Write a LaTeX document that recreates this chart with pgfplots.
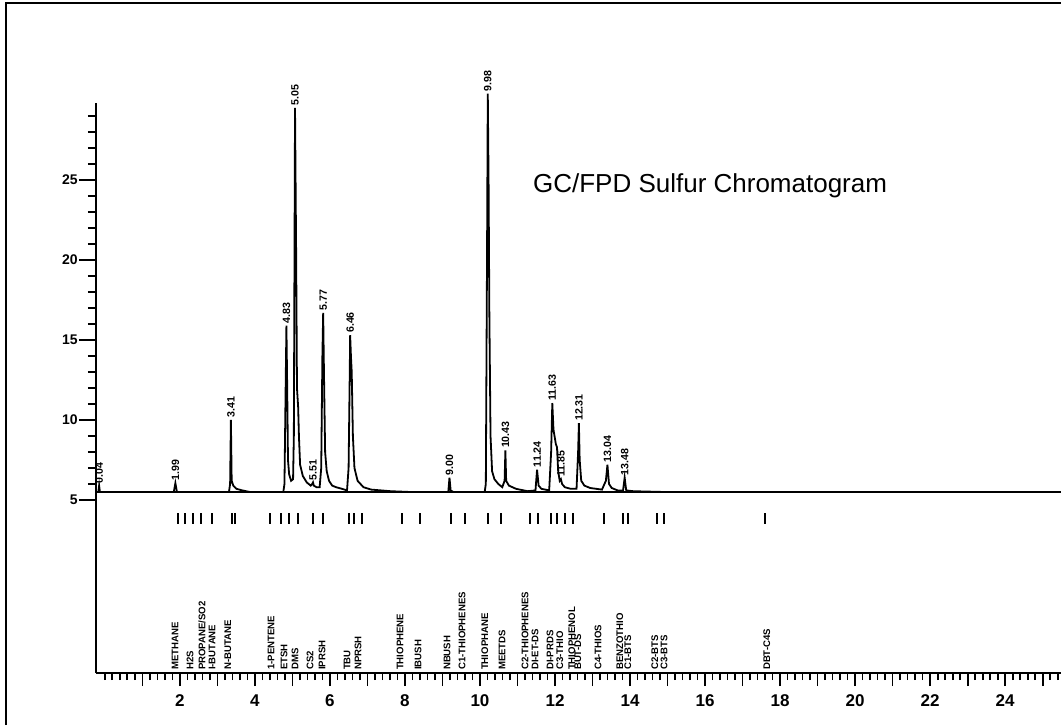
\documentclass[border=0pt]{standalone}
\usepackage{fontspec}
\setmainfont{Liberation Sans}
\usepackage{pgfplots}
\pgfplotsset{compat=1.18}
\begin{document}
\begin{tikzpicture}
\useasboundingbox (0,0) rectangle (530.5pt,362.5pt);
% scan frame
\draw[line width=0.8pt] (3pt,0) -- (3pt,361pt) -- (530.5pt,361pt);
\node[anchor=west, font=\fontsize{13}{15}\selectfont] at (263pt,269.5pt) {GC/FPD Sulfur Chromatogram};

% upper: the chromatogram
\begin{axis}[
  at={(48pt,112.5pt)}, anchor=south west, scale only axis,
  width=482.5pt, height=198.5pt,
  xmin=-0.04, xmax=24.64, ymin=5, ymax=29.81,
  axis x line=none, axis y line=left,
  axis line style={-, line width=1.3pt},
  clip=false,
  ytick={5,10,15,20,25}, minor ytick={6,7,8,9,11,12,13,14,16,17,18,19,21,22,23,24,26,27,28,29},
  tick align=outside, major tick length=8.5pt, minor tick length=4pt,
  tick style={line width=1pt, black},
  yticklabel style={font=\fontsize{7}{8}\selectfont\bfseries, inner sep=0.5pt},
  /pgf/number format/assume math mode=true,
]
\draw[line width=1.2pt] (axis cs:-0.04,5.5) -- (axis cs:24.64,5.5);
\addplot[black, line width=0.9pt] coordinates {
(-0.04,5.5) (0.02,5.5) (0.04,5.9) (0.06,5.5)
(1.95,5.5) (1.99,6.06) (2.03,5.5)
(3.36,5.5) (3.39,6.0) (3.41,10.0) (3.43,6.2) (3.47,5.9) (3.55,5.7) (3.7,5.6) (3.9,5.5)
(4.75,5.5) (4.78,6.0) (4.81,12) (4.83,15.9) (4.85,12) (4.87,7.5) (4.9,6.6) (4.95,6.2) (5.0,6.3)
(5.02,9) (5.05,29.5) (5.08,20) (5.10,12) (5.13,10.8) (5.15,9) (5.18,7.2) (5.25,6.5) (5.35,6.1)
(5.45,5.9) (5.49,6.0) (5.51,6.1) (5.53,5.9) (5.6,5.8) (5.68,5.8) (5.72,7) (5.75,14) (5.77,16.7)
(5.79,13) (5.82,8) (5.86,6.8) (5.92,6.2) (6.0,5.9) (6.1,5.8) (6.25,5.7) (6.38,5.6) (6.42,7)
(6.45,13) (6.46,15.3) (6.48,14) (6.50,13) (6.53,9) (6.57,7) (6.65,6.2) (6.8,5.8) (7.0,5.65)
(7.5,5.55) (8.0,5.5)
(8.97,5.5) (9.0,6.4) (9.03,5.6) (9.1,5.5)
(9.90,5.5) (9.93,6) (9.96,20) (9.98,30.4) (10.0,25) (10.02,16.7) (10.05,9) (10.09,6.8)
(10.15,6.3) (10.25,6.0) (10.35,5.8) (10.41,6.2) (10.43,8.1) (10.45,6.2) (10.52,5.9) (10.7,5.7)
(11.0,5.55) (11.2,5.6) (11.24,6.9) (11.28,5.9) (11.35,5.7) (11.55,5.6) (11.6,8) (11.63,11.06)
(11.66,9.4) (11.72,8.5) (11.75,8.3) (11.78,6.8) (11.82,6.2) (11.85,6.3) (11.88,6.0) (11.95,5.8)
(12.1,5.7) (12.25,5.7) (12.29,8) (12.31,9.8) (12.33,7.5) (12.37,6.2) (12.45,5.9) (12.6,5.75)
(12.9,5.65) (13.0,6.2) (13.04,7.2) (13.08,6.0) (13.15,5.75) (13.3,5.6) (13.44,5.6) (13.48,6.4)
(13.52,5.6) (13.7,5.55) (14.5,5.5) (24.64,5.5)
};
% retention time labels
\addplot[only marks, mark=none, point meta=explicit symbolic, nodes near coords,
  nodes near coords style={rotate=90, anchor=west, inner sep=1pt,
    font=\fontsize{5.3}{6}\selectfont\bfseries}]
  table[meta=lab] {
t h lab
0.04 5.9 0.04
1.99 6.06 1.99
3.41 10.0 3.41
4.83 15.9 4.83
5.05 29.5 5.05
5.51 6.1 5.51
5.77 16.7 5.77
6.46 15.3 6.46
9.00 6.4 9.00
9.98 30.4 9.98
10.43 8.1 10.43
11.24 6.9 11.24
11.63 11.06 11.63
11.85 6.3 11.85
12.31 9.8 12.31
13.04 7.2 13.04
13.48 6.4 13.48
};
\end{axis}

% lower: component windows and time axis
\begin{axis}[
  at={(48pt,26pt)}, anchor=south west, scale only axis,
  width=482.5pt, height=86.5pt,
  xmin=-0.237, xmax=25.49, ymin=0, ymax=1,
  axis x line=bottom, axis y line=left,
  axis line style={-, line width=1.3pt},
  ytick=\empty,
  xtick={2,4,...,24}, extra x ticks={1,3,...,25}, extra x tick labels={},
  minor xtick={0,0.2,...,25.4},
  tick align=outside, major tick length=6.5pt, minor tick length=3.5pt,
  tick style={line width=0.9pt, black},
  xticklabel style={font=\fontsize{8.5}{9}\selectfont\bfseries, inner sep=1pt, yshift=-3pt},
  /pgf/number format/assume math mode=true,
]
\addplot[only marks, mark=|, mark size=2.75pt, mark options={line width=0.9pt}] coordinates {
(1.95,0.893) (2.14,0.893) (2.35,0.893) (2.56,0.893) (2.86,0.893) (3.39,0.893) (3.47,0.893)
(4.40,0.893) (4.69,0.893) (4.91,0.893) (5.15,0.893) (5.55,0.893) (5.81,0.893) (6.51,0.893)
(6.64,0.893) (6.85,0.893) (7.92,0.893) (8.40,0.893) (9.23,0.893) (9.60,0.893) (10.21,0.893)
(10.56,0.893) (11.33,0.893) (11.54,0.893) (11.89,0.893) (12.05,0.893) (12.27,0.893)
(12.48,0.893) (13.31,0.893) (13.81,0.893) (13.94,0.893) (14.72,0.893) (14.91,0.893) (17.60,0.893)
};
\addplot[only marks, mark=none, point meta=explicit symbolic, nodes near coords,
  nodes near coords style={rotate=90, anchor=west, inner sep=0.5pt,
    font=\fontsize{4.8}{5}\selectfont\bfseries}]
  table[meta=lab] {
t h lab
1.87 0.01 METHANE
2.27 0.01 H2S
2.59 0.01 PROPANE/SO2
2.86 0.01 I-BUTANE
3.28 0.01 N-BUTANE
4.43 0.01 1-PENTENE
4.78 0.01 ETSH
5.07 0.01 DMS
5.47 0.01 CS2
5.79 0.01 IPRSH
6.46 0.01 TBU
6.75 0.01 NPRSH
7.87 0.01 THIOPHENE
8.35 0.01 IBUSH
9.12 0.01 NBUSH
9.52 0.01 C1-THIOPHENES
10.13 0.01 THIOPHANE
10.59 0.01 MEETDS
11.20 0.01 C2-THIOPHENES
11.47 0.01 DI-ET-DS
11.87 0.01 DI-PRDS
12.13 0.01 C3-THIO
12.45 0.01 THIOPHENOL
12.61 0.01 BUT-DS
13.15 0.01 C4-THIOS
13.73 0.01 BENZOTHIO
13.94 0.01 C1-BTS
14.66 0.01 C2-BTS
14.91 0.01 C3-BTS
17.65 0.01 DBT-C4S
};
\end{axis}
\end{tikzpicture}
\end{document}
